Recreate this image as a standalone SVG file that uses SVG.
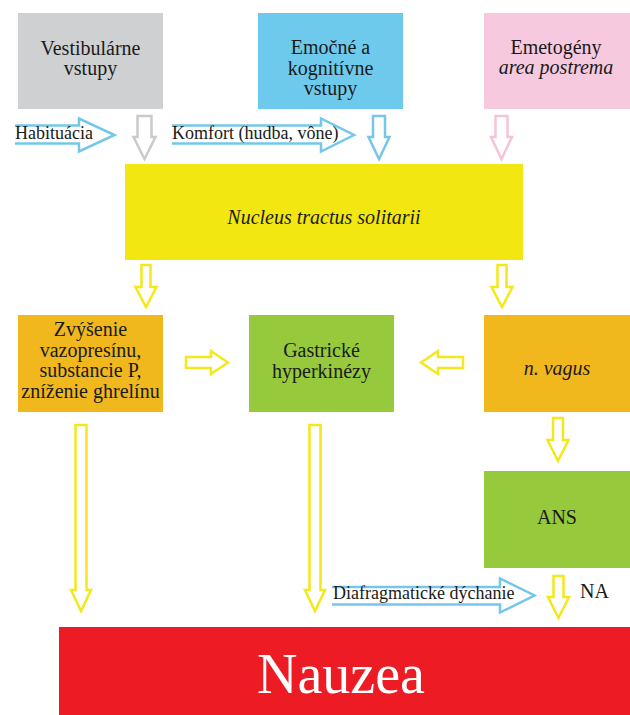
<svg xmlns="http://www.w3.org/2000/svg" width="630" height="715" viewBox="0 0 630 715">
<style>
.t{font-family:"Liberation Serif","Times New Roman",serif;font-size:20px;fill:#1a1a1a;text-anchor:middle}
.i{font-style:italic}
.lbl{font-family:"Liberation Serif","Times New Roman",serif;font-size:18px;fill:#1a1a1a}
.ay{fill:#fff;stroke:#f4e81b;stroke-width:2.5;stroke-linejoin:miter}
.ab{fill:#fff;stroke:#74c7ea;stroke-width:2.5}
.ag{fill:#fff;stroke:#c9cacb;stroke-width:2.5}
.ap{fill:#fff;stroke:#f5c3da;stroke-width:2.5}
</style>
<rect width="630" height="715" fill="#fff"/>
<g id="vestibular">
<rect x="18" y="13" width="145" height="96" fill="#cfd0d2"/>
<text class="t" x="90.5" y="55">Vestibulárne</text>
<text class="t" x="90.5" y="75">vstupy</text>
</g>
<g id="emotional">
<rect x="258" y="13" width="145" height="96" fill="#6ecaed"/>
<text class="t" x="330.5" y="54">Emočné a</text>
<text class="t" x="330.5" y="74.5">kognitívne</text>
<text class="t" x="330.5" y="95">vstupy</text>
</g>
<g id="emetogens">
<rect x="484" y="13" width="146" height="96" fill="#f6c9de"/>
<text class="t" x="556" y="54">Emetogény</text>
<text class="t i" x="556" y="74">area postrema</text>
</g>
<g id="nts">
<rect x="125" y="164" width="398" height="96" fill="#f2e711"/>
<text class="t i" x="324" y="224">Nucleus tractus solitarii</text>
</g>
<g id="hormones">
<rect x="18" y="315" width="145" height="97" fill="#f0b81c"/>
<text class="t" x="90.5" y="336">Zvýšenie</text>
<text class="t" x="90.5" y="356.5">vazopresínu,</text>
<text class="t" x="90.5" y="377">substancie P,</text>
<text class="t" x="90.5" y="397.5">zníženie ghrelínu</text>
</g>
<g id="gastric">
<rect x="249" y="315" width="145" height="97" fill="#97c93d"/>
<text class="t" x="321.5" y="357">Gastrické</text>
<text class="t" x="321.5" y="378">hyperkinézy</text>
</g>
<g id="vagus">
<rect x="484" y="315" width="146" height="97" fill="#f0b81c"/>
<text class="t i" x="557" y="375">n. vagus</text>
</g>
<g id="ans">
<rect x="484" y="471" width="146" height="97" fill="#97c93d"/>
<text class="t" x="557" y="524">ANS</text>
</g>
<g id="nauzea">
<rect x="59" y="627" width="571" height="88" fill="#ed1c24"/>
<text x="341" y="693" style="font-family:'Liberation Serif','Times New Roman',serif;font-size:56px;fill:#fff;text-anchor:middle">Nauzea</text>
</g>
<g id="connectors">
<path class="ab" d="M15,125.5 H79 V118.5 L114.5,135 L79,151.5 V143.5 H15"/>
<text class="lbl" x="15" y="139">Habituácia</text>
<path class="ab" d="M172,125.5 H321 V118.5 L354,135 L321,151.5 V143.5 H172"/>
<text class="lbl" x="172" y="139">Komfort (hudba, vône)</text>
<path class="ag" d="M137.5,116 H151.5 V137 H155.5 L144.5,159 L133.5,137 H137.5 Z"/>
<path class="ab" d="M373,116 H385 V137 H389.5 L379,159 L368.5,137 H373 Z"/>
<path class="ap" d="M495.5,116 H507.5 V137 H512 L501.5,159 L491,137 H495.5 Z"/>
<path class="ay" d="M141.5,265 H150.5 V287 H156.5 L146,307 L135.5,287 H141.5 Z"/>
<path class="ay" d="M497.5,265 H506.5 V287 H512.5 L502,307 L491.5,287 H497.5 Z"/>
<path class="ay" d="M186,357 H211 V351 L228,362.5 L211,374 V368 H186 Z"/>
<path class="ay" d="M463,357 H438 V351 L421,362.5 L438,374 V368 H463 Z"/>
<path class="ay" d="M553,418 H563 V440 H568.5 L558,461 L547.5,440 H553 Z"/>
<path class="ay" d="M75.5,425 H86.5 V590 H91 L81,611 L71,590 H75.5 Z"/>
<path class="ay" d="M309.5,425 H320.5 V590 H325 L315,611 L305,590 H309.5 Z"/>
<path class="ab" d="M332,587 H500 V578.5 L534.5,595.5 L500,612.5 V604.5 H332"/>
<text class="lbl" x="333" y="599">Diafragmatické dýchanie</text>
<path class="ay" d="M553.5,576 H563.5 V597 H569 L558.5,618 L548,597 H553.5 Z"/>
<text class="t" x="580" y="598" style="text-anchor:start">NA</text>
</g>
</svg>
